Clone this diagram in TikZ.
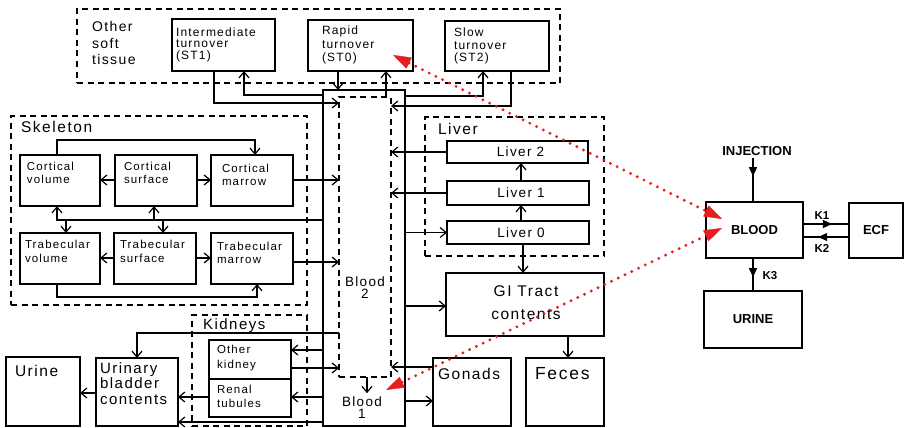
\documentclass[tikz,border=0pt]{standalone}
\usepackage{fontspec}
\setmainfont{Liberation Sans}[LetterSpace=10]
\newfontfamily\plainsf{Liberation Sans}
\usetikzlibrary{arrows.meta,fit,decorations.markings}
\newcommand\fsz[2]{\fontsize{#1}{#2}\selectfont}
\definecolor{redc}{RGB}{232,30,30}
\begin{document}
\begin{tikzpicture}[x=1pt,y=-1pt,
  bx/.style={draw, line width=1.3pt, inner sep=0pt, outer sep=0pt},
  dbx/.style={draw, line width=1.3pt, dash pattern=on 6pt off 4.5pt, inner sep=0pt, outer sep=0pt},
  ln/.style={line width=1.2pt},
  arr/.style={line width=1.2pt, -{Straight Barb[length=6pt,width=10pt,line width=1.2pt]}},
  txt/.style={inner sep=0pt, outer sep=0pt, align=left, anchor=base west},
  txc/.style={inner sep=0pt, outer sep=0pt, align=center, anchor=base},
  rtxt/.style={inner sep=0pt, outer sep=0pt, font=\plainsf\bfseries\fsz{13}{15}},
  ktxt/.style={inner sep=0pt, outer sep=0pt, font=\plainsf\bfseries\fsz{11.5}{13}},
  midarr/.style={postaction={decorate}, decoration={markings, mark=at position #1 with {\arrow{Triangle[length=9pt,width=8pt]}}}},
  reddot/.style={draw=redc, line width=3.2pt, dash pattern=on 0pt off 7.5pt, line cap=round,
    {Triangle[length=18pt,width=12pt,line width=0.4pt]}-{Triangle[length=18pt,width=12pt,line width=0.4pt]}}
]
\useasboundingbox (0,0) rectangle (905,428);

% ---------- Other soft tissue (multi-line texts placed at their last baseline) ----------
\node[dbx, fit={(77,9) (560,83)}] (ost) {};
\node[txt, font=\fsz{14}{16.5}] (ostl) at (92,65) {Other\\soft\\tissue};
\node[bx, fit={(172,19) (275,71)}] (st1) {};
\node[txt, font=\fsz{12}{11.7}] (st1l) at (176,59.5) {Intermediate\\turnover\\(ST1)};
\node[bx, fit={(308,20) (413,71)}] (st0) {};
\node[txt, font=\fsz{12}{13.5}] (st0l) at (322,62) {Rapid\\turnover\\(ST0)};
\node[bx, fit={(445,21) (549,71)}] (st2) {};
\node[txt, font=\fsz{12}{12.5}] (st2l) at (454,62) {Slow\\turnover\\(ST2)};

% ---------- Blood ----------
\node[bx, fit={(323,90) (405,426)}] (bo) {};
\node[dbx, fit={(339,97) (391,377)}] (b2) {};
\node[txc, font=\fsz{13.5}{12}] (b2l) at (365,298) {Blood\\2};
\node[txc, font=\fsz{13.5}{12}] (b1l) at (362,418) {Blood\\1};

% ---------- Skeleton ----------
\node[dbx, fit={(11,116) (307,305)}] (skel) {};
\node[txt, font=\fsz{15.5}{18}] (skell) at (21,132) {Skeleton};
\node[bx, fit={(20,155) (100,206)}] (cv) {};
\node[bx, fit={(115,155) (197,206)}] (cs) {};
\node[bx, fit={(211,155) (293,206)}] (cm) {};
\node[bx, fit={(20,233) (100,284)}] (tv) {};
\node[bx, fit={(114,233) (196,284)}] (ts) {};
\node[bx, fit={(211,233) (293,284)}] (tm) {};
\node[txt, font=\fsz{11.5}{13}] (cvl) at (27,183) {Cortical\\volume};
\node[txt, font=\fsz{11.5}{13}] (csl) at (124,183) {Cortical\\surface};
\node[txt, font=\fsz{11.5}{13}] (cml) at (222,185) {Cortical\\marrow};
\node[txt, font=\fsz{11.5}{14}] (tvl) at (25,262) {Trabecular\\volume};
\node[txt, font=\fsz{11.5}{14}] (tsl) at (120,262) {Trabecular\\surface};
\node[txt, font=\fsz{11.5}{13.5}] (tml) at (217,263.5) {Trabecular\\marrow};

% ---------- Liver ----------
\node[dbx, fit={(425,117) (604,256)}] (liv) {};
\node[txt, font=\fsz{15.5}{18}] (livl) at (438,134) {Liver};
\node[bx, fit={(447,141) (588,163)}] (l2) {};
\node[bx, fit={(447,181) (589,205)}] (l1) {};
\node[bx, fit={(447,221) (589,244)}] (l0) {};
\node[inner sep=0pt, font=\fsz{13.5}{15}] (l2l) at ([xshift=3pt]l2.center) {Liver 2};
\node[inner sep=0pt, font=\fsz{13.5}{15}] (l1l) at ([xshift=3pt]l1.center) {Liver 1};
\node[inner sep=0pt, font=\fsz{13.5}{15}] (l0l) at ([xshift=3pt]l0.center) {Liver 0};

% ---------- GI, gonads, feces ----------
\node[bx, fit={(446,273) (604,336)}] (gi) {};
\node[txc, font=\fsz{15.5}{23}] (gil) at (526,319) {GI Tract\\contents};
\node[bx, fit={(433,358) (511,426)}] (gon) {};
\node[txt, font=\fsz{15.5}{18}] (gonl) at (438,379) {Gonads};
\node[bx, fit={(526,358) (604,426)}] (fec) {};
\node[txt, font=\fsz{17.5}{20}] (fecl) at (535,379) {Feces};

% ---------- Kidneys, bladder, urine ----------
\node[dbx, fit={(192,315) (307,426)}] (kid) {};
\node[txt, font=\fsz{15}{18}] (kidl) at (203,329) {Kidneys};
\node[bx, fit={(209,340) (291,379)}] (ok) {};
\node[bx, fit={(209,379) (291,417)}] (rt) {};
\node[txt, font=\fsz{11.5}{15}] (okl) at (217,368) {Other\\kidney};
\node[txt, font=\fsz{11.5}{14}] (rtl) at (217,407) {Renal\\tubules};
\node[bx, fit={(96,358) (178,426)}] (ubc) {};
\node[txt, font=\fsz{15}{15.5}] (ubcl) at (100,404) {Urinary\\bladder\\contents};
\node[bx, fit={(6,357) (80,426)}] (uri) {};
\node[txt, font=\fsz{15.5}{18}] (uril) at (15,376) {Urine};

% ---------- connectors: soft tissue ----------
\draw[arr] (214,0 |- st1.south) |- (b2.west |- 0,103);
\draw[arr] (bo.west |- 0,95) -| (244,0 |- st1.south);
\draw[arr] (338,0 |- st0.south) -- (338,0 |- bo.north);
\draw[arr] (386,0 |- b2.north) -- (386,0 |- st0.south);
\draw[arr] (bo.east |- 0,96) -| (483,0 |- st2.south);
\draw[arr] (511,0 |- st2.south) |- (b2.east |- 0,106);

% ---------- connectors: skeleton ----------
\draw[arr] (57,0 |- cv.north) -- (57,140) -| (255,0 |- cm.north);
\draw[arr] (cs.west |- 0,180) -- (cv.east |- 0,180);
\draw[arr] (cs.east |- 0,180) -- (cm.west |- 0,180);
\draw[arr] (cm.east |- 0,180) -- (b2.west |- 0,180);
\coordinate (ex) at (57,220);
\draw[arr] (bo.west |- ex) -| (57,0 |- cv.south);
\draw[arr] (66,220) -- (66,0 |- tv.north);
\draw[arr] (154,220) -- (154,0 |- cs.south);
\draw[arr] (163,220) -- (163,0 |- ts.north);
\draw[arr] (ts.west |- 0,258) -- (tv.east |- 0,258);
\draw[arr] (ts.east |- 0,258) -- (tm.west |- 0,258);
\draw[arr] (tm.east |- 0,262) -- (b2.west |- 0,262);
\draw[arr] (57,0 |- tv.south) -- (57,297) -| (257,0 |- tm.south);

% ---------- connectors: liver, GI ----------
\draw[arr] (l2.west) -- (b2.east |- l2.west);
\draw[arr] (l1.west) -- (b2.east |- l1.west);
\draw[arr] (bo.east |- l0.west) -- (l0.west);
\draw[arr] (521,0 |- l1.north) -- (521,0 |- l2.south);
\draw[arr] (521,0 |- l0.north) -- (521,0 |- l1.south);
\draw[arr] (523,0 |- l0.south) -- (523,0 |- gi.north);
\draw[arr] (bo.east |- 0,306) -- (gi.west |- 0,306);
\draw[arr] (568,0 |- gi.south) -- (568,0 |- fec.north);
\draw[arr] (gon.west |- 0,367) -- (b2.east |- 0,367);
\draw[arr] (bo.east |- 0,401) -- (gon.west |- 0,401);

% ---------- connectors: kidneys ----------
\draw[arr] (b2.west |- 0,333) -| (137,0 |- ubc.north);
\draw[arr] (bo.west |- 0,350) -- (ok.east |- 0,350);
\draw[arr] (ok.east |- 0,368) -- (b2.west |- 0,368);
\draw[arr] (bo.west |- 0,397) -- (rt.east |- 0,397);
\draw[arr] (rt.west |- 0,397) -- (ubc.east |- 0,397);
\draw[arr] (bo.west |- 0,422) -- (ubc.east |- 0,422);
\draw[arr] (ubc.west |- 0,393) -- (uri.east |- 0,393);
\draw[arr, shorten >=3pt] (367,0 |- b2.south) -- (367,0 |- b1l.north);

% ---------- right compartment model ----------
\node[rtxt, anchor=base] (inj) at (757,155) {INJECTION};
\node[bx, fit={(706,202) (803,258)}] (blood) {};
\node[rtxt] (bloodl) at (blood.center) {BLOOD};
\node[bx, fit={(849,203) (903,258)}] (ecf) {};
\node[rtxt] (ecfl) at (ecf.center) {ECF};
\node[bx, fit={(704,291) (802,348)}] (urine) {};
\node[rtxt] (urinel) at (urine.center) {URINE};
\draw[ln, midarr=0.45, shorten <=3pt] (753,0 |- inj.south) -- (753,0 |- blood.north);
\draw[ln, midarr=0.63] (blood.east |- 0,224) -- (ecf.west |- 0,224);
\draw[ln, midarr=0.67] (ecf.west |- 0,237) -- (blood.east |- 0,237);
\draw[ln, midarr=0.58] (753,0 |- blood.south) -- (753,0 |- urine.north);
\node[ktxt] (k1) at (822,216) {K1};
\node[ktxt] (k2) at (822,248) {K2};
\node[ktxt] (k3) at (770,276) {K3};

% ---------- red dotted links ----------
\coordinate (ra1) at (393,55);
\coordinate (rb1) at (722,219);
\coordinate (ra2) at (386,390);
\coordinate (rb2) at (722,228);
\draw[reddot] (ra1) -- (rb1);
\draw[reddot] (ra2) -- (rb2);
\end{tikzpicture}
\end{document}
